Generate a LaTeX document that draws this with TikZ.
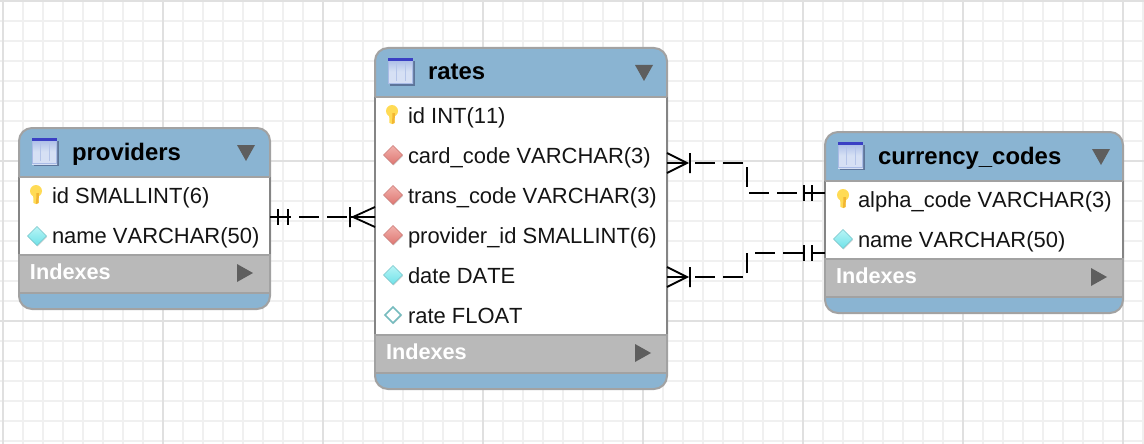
\documentclass[tikz,border=0pt]{standalone}
\usepackage{fontspec}
\setmainfont[Kerning=Off]{Liberation Sans}
\usetikzlibrary{shapes.geometric,shadows}
\definecolor{headblue}{HTML}{8AB4D2}
\definecolor{tabedge}{HTML}{A2A2A2}
\definecolor{sideedge}{HTML}{858585}
\definecolor{idxgray}{HTML}{B9B9B9}
\definecolor{markgray}{HTML}{5E5E5E}
\definecolor{gridminor}{HTML}{F0F0F0}
\definecolor{gridmajor}{HTML}{E0E0E0}
\definecolor{iconpale}{HTML}{D6E0F4}
\definecolor{iconedge}{HTML}{A9BBE6}
\definecolor{iconline}{HTML}{B4C4E8}
\definecolor{iconshade}{HTML}{4F6188}
\definecolor{iconband}{HTML}{3A3FC4}
\definecolor{keylight}{HTML}{FFDB55}
\definecolor{keydark}{HTML}{F2B632}
\definecolor{fktop}{HTML}{F2B0AC}
\definecolor{fklow}{HTML}{DE7872}
\definecolor{plaintop}{HTML}{B8F4F6}
\definecolor{plainlow}{HTML}{6FE2E8}
\begin{document}
\begin{tikzpicture}[x=1pt,y=-1pt]
  \tikzstyle{every node}=[inner sep=0pt,outer sep=0pt]
  \tikzstyle{tabbox}=[draw=tabedge,line width=2pt,fill=headblue,rounded corners=13pt,anchor=north west]
  \tikzstyle{bodybox}=[fill=white,anchor=north west]
  \tikzstyle{idxbox}=[draw=tabedge,line width=1.6pt,fill=idxgray,anchor=north west]
  \tikzstyle{tabtitle}=[anchor=base west,font=\fontsize{23.9}{26}\selectfont\bfseries,text=black]
  \tikzstyle{rowtext}=[anchor=base west,font=\fontsize{21.95}{24}\selectfont,text=black!92]
  \tikzstyle{idxtext}=[anchor=base west,font=\fontsize{21.7}{24}\selectfont\bfseries,text=white]
  \tikzstyle{coldiamond}=[diamond,minimum width=19pt,minimum height=19pt,line width=.5pt,drop shadow={opacity=.3,shadow xshift=.6pt,shadow yshift=-1pt}]
  \tikzstyle{fkdiamond}=[coldiamond,draw=fklow!80!gray,top color=fktop,bottom color=fklow]
  \tikzstyle{plaindiamond}=[coldiamond,draw=plainlow!70!gray,top color=plaintop,bottom color=plainlow]
  \tikzstyle{nulldiamond}=[coldiamond,draw=plainlow!60!gray,line width=1.5pt,fill=white,minimum width=16pt,minimum height=16pt]
  \tikzstyle{relline}=[black,line width=1.8pt]
  \tikzstyle{reldash}=[relline,dash pattern=on 20pt off 8pt]
  \useasboundingbox (0,0) rectangle (1144,444);
  \fill [white] (0,0) rectangle (1144,444);
  % background grid
  \foreach \gx in {3,23,...,1143}
    \draw [gridminor,line width=2pt] (\gx,0) -- (\gx,444);
  \foreach \gy in {1,21,...,441}
    \draw [gridminor,line width=2pt] (0,\gy) -- (1144,\gy);
  \foreach \gx in {3,163,...,1143}
    \draw [gridmajor,line width=2pt] (\gx,0) -- (\gx,444);
  \foreach \gy in {1,161,321}
    \draw [gridmajor,line width=2pt] (0,\gy) -- (1144,\gy);
  % the three tables
  \foreach \tab/\tx/\ty/\tw/\ttop/\tmid/\tlow/\tend/\ttitle in {
    providers/19/128/251/177/255/293/309/providers,
    rates/375/48/292/97/335/373/389/rates,
    codes/825/132/298/181/259/297/313/currency\_codes} {
    \node [tabbox,minimum width=\tw pt,minimum height=\tend pt-\ty pt] (\tab) at (\tx,\ty) {};
    \node [bodybox,minimum width=\tw pt-2pt,minimum height=\tmid pt-\ttop pt] (\tab-body) at (\tx+1,\ttop) {};
    \draw [sideedge,line width=2pt] (\tx,\ttop) -- (\tx,\tmid) (\tx+\tw,\ttop) -- (\tx+\tw,\tmid);
    \draw [tabedge,line width=1.6pt] (\tx,\ttop) -- ++(\tw,0);
    \node [idxbox,minimum width=\tw pt,minimum height=\tlow pt-\tmid pt] (\tab-idx) at (\tx,\tmid) {};
    \node [tabtitle] (\tab-title) at (\tx+53,\ty+32) {\ttitle};
    \node [idxtext] (\tab-idxname) at (\tx+11,\tmid+24) {Indexes};
    % table icon
    \fill [iconshade,opacity=.75] (\tx+15,\ty+13) rectangle (\tx+40,\ty+38);
    \shade [top color=iconedge,bottom color=iconpale,middle color=iconpale] (\tx+13,\ty+11) rectangle (\tx+38,\ty+36);
    \fill [iconband] (\tx+13,\ty+10) rectangle (\tx+38,\ty+13);
    \draw [iconline,line width=1pt] (\tx+21,\ty+15) -- (\tx+21,\ty+33) (\tx+30,\ty+15) -- (\tx+30,\ty+33);
    \draw [iconedge,line width=1pt] (\tx+13.5,\ty+13) -- (\tx+13.5,\ty+35.5) -- (\tx+37.5,\ty+35.5) -- (\tx+37.5,\ty+13);
  }
  % collapse markers
  \foreach \mx/\my in {237/145,635/65,1092/149}
    \fill [markgray] (\mx,\my) -- ++(18,0) -- ++(-9,16) -- cycle;
  \foreach \mx/\my in {237/264,635/344,1091/268}
    \fill [markgray] (\mx,\my) -- ++(16,9) -- ++(-16,9) -- cycle;
  % primary key icons
  \foreach \kx/\ky in {36/192,392/112,843/196} {
    \fill [keylight] (\kx-3,\ky) -- (\kx+3,\ky) -- (\kx+2.5,\ky+11) -- (\kx,\ky+12) -- (\kx-2.5,\ky+11) -- cycle;
    \fill [keylight] (\kx,\ky-1) ellipse (6pt and 6pt);
    \fill [keydark] (\kx+.5,\ky+1) -- (\kx+3,\ky+1) -- (\kx+2.5,\ky+11) -- (\kx,\ky+12) -- cycle;
  }
  % column rows
  \node [rowtext] (prov-id) at (52,203) {id SMALLINT(6)};
  \node [rowtext] (prov-name) at (52,243) {name VARCHAR(50)};
  \node [rowtext] (rate-id) at (408,123) {id INT(11)};
  \node [rowtext] (rate-card) at (408,163) {card\_code VARCHAR(3)};
  \node [rowtext] (rate-trans) at (408,203) {trans\_code VARCHAR(3)};
  \node [rowtext] (rate-prov) at (408,243) {provider\_id SMALLINT(6)};
  \node [rowtext] (rate-date) at (408,283) {date DATE};
  \node [rowtext] (rate-rate) at (408,323) {rate FLOAT};
  \node [rowtext] (code-alpha) at (858,207) {alpha\_code VARCHAR(3)};
  \node [rowtext] (code-name) at (858,247) {name VARCHAR(50)};
  \node [plaindiamond] (prov-name-icon) at (37,236) {};
  \node [fkdiamond] (rate-card-icon) at (393,155) {};
  \node [fkdiamond] (rate-trans-icon) at (393,195) {};
  \node [fkdiamond] (rate-prov-icon) at (393,235) {};
  \node [plaindiamond] (rate-date-icon) at (393,275) {};
  \node [nulldiamond] (rate-rate-icon) at (393,315) {};
  \node [plaindiamond] (code-name-icon) at (843,239) {};
  % providers to rates
  \coordinate (p1) at ([yshift=1.5pt]providers.east);
  \coordinate (r1) at ([yshift=1.5pt]rates.west);
  \draw [relline] (p1) -- ++(21,0) ++(-13,-8) -- ++(0,16) ++(10,-16) -- ++(0,16);
  \draw [reldash] (p1) ++(29,0) -- ++(50,0);
  \draw [relline] (r1) ++(0,-10) -- ++(-22,10) -- ++(22,10) (r1) -- ++(-26,0) ++(1,-10) -- ++(0,20);
  % rates to currency_codes, upper line
  \coordinate (r2) at ([yshift=55.5pt]rates.east);
  \coordinate (c2) at ([yshift=29.5pt]codes.west);
  \draw [relline] (r2) ++(0,-10) -- ++(20,10) -- ++(-20,10) (r2) -- ++(20,0) ++(3,-10) -- ++(0,20);
  \draw [reldash] (r2) ++(28,0) -| ([xshift=-78pt]c2) -- ([xshift=-28pt]c2);
  \draw [relline] (c2) -- ++(-21,0) ++(0,-8) -- ++(0,16) ++(8,-16) -- ++(0,16);
  % rates to currency_codes, lower line
  \coordinate (r3) at ([yshift=-58.5pt]rates.east);
  \coordinate (c3) at ([yshift=-30.5pt]codes.west);
  \draw [relline] (r3) ++(0,-10) -- ++(20,10) -- ++(-20,10) (r3) -- ++(20,0) ++(3,-10) -- ++(0,20);
  \draw [reldash] (r3) ++(28,0) -| ([xshift=-78pt]c3) -- ([xshift=-22pt]c3);
  \draw [relline] (c3) -- ++(-13,0) ++(0,-8) -- ++(0,16) ++(-8,-16) -- ++(0,16);
\end{tikzpicture}
\end{document}
